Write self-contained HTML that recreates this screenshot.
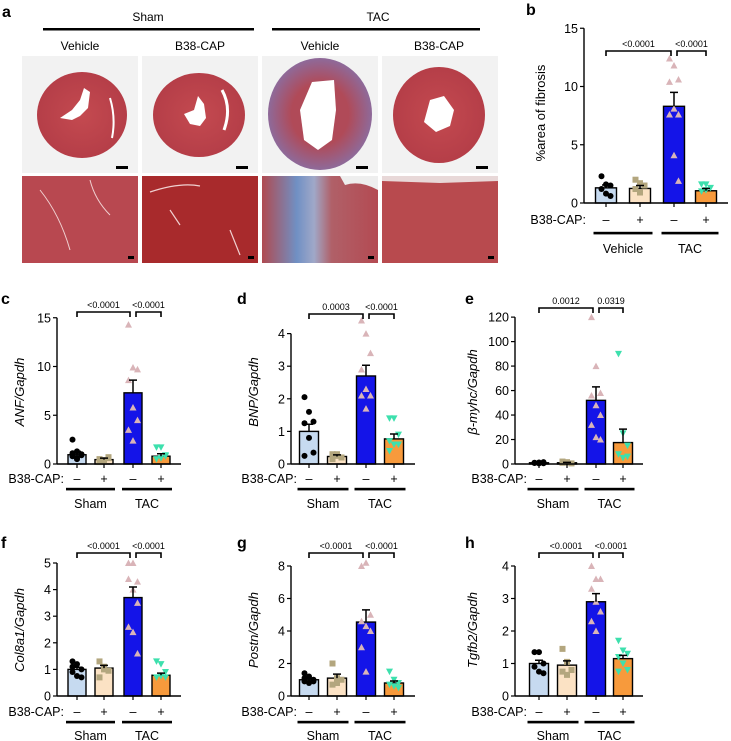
<!DOCTYPE html>
<html><head><meta charset="utf-8">
<style>
html,body{margin:0;padding:0;background:#fff;}
svg{display:block;font-family:"Liberation Sans",sans-serif;}
</style></head>
<body>
<svg id="fig" width="731" height="741" viewBox="0 0 731 741" xmlns="http://www.w3.org/2000/svg">
<defs>
<radialGradient id="heartG" cx="50%" cy="50%" r="50%"><stop offset="0%" stop-color="#c44a50"/><stop offset="100%" stop-color="#b53e48"/></radialGradient>
<radialGradient id="heartT" cx="50%" cy="50%" r="50%"><stop offset="55%" stop-color="#b04a58"/><stop offset="100%" stop-color="#8e6a9a"/></radialGradient>
<linearGradient id="fibro" x1="0" x2="1"><stop offset="0" stop-color="#b04a50"/><stop offset="0.3" stop-color="#7090c4"/><stop offset="0.45" stop-color="#a0a8c8"/><stop offset="0.6" stop-color="#b06068"/><stop offset="1" stop-color="#b44a52"/></linearGradient>
</defs>
<g id="panelA">
<text x="2" y="17" font-size="16" font-weight="bold">a</text>
<text x="148" y="21" font-size="12" text-anchor="middle">Sham</text>
<rect x="43" y="28" width="211" height="2.5" fill="#000"/>
<text x="378" y="21" font-size="12" text-anchor="middle">TAC</text>
<rect x="272" y="28" width="208" height="2.5" fill="#000"/>
<text x="80" y="50" font-size="12" text-anchor="middle">Vehicle</text>
<text x="200" y="50" font-size="12" text-anchor="middle">B38-CAP</text>
<text x="320" y="50" font-size="12" text-anchor="middle">Vehicle</text>
<text x="439" y="50" font-size="12" text-anchor="middle">B38-CAP</text>
<g>
<rect x="22" y="56" width="116" height="117" fill="#f2f2f2"/>
<ellipse cx="82" cy="115" rx="45" ry="43" fill="url(#heartG)"/>
<path d="M84 88 L90 92 L88 108 L80 116 L72 120 L60 118 L72 110 L80 100 Z" fill="#fff"/>
<path d="M110 98 Q116 118 112 138" stroke="#fff" stroke-width="2" fill="none"/>
<rect x="116" y="166" width="12" height="3" fill="#000"/>
</g>
<g>
<rect x="142" y="56" width="116" height="117" fill="#f2f2f2"/>
<ellipse cx="199" cy="115" rx="46" ry="42" fill="url(#heartG)"/>
<path d="M198 96 L204 104 L206 118 L200 126 L190 124 L184 114 L194 110 Z" fill="#fff"/>
<path d="M222 90 Q232 108 224 130" stroke="#fff" stroke-width="3" fill="none"/>
<rect x="236" y="166" width="12" height="3" fill="#000"/>
</g>
<g>
<rect x="262" y="56" width="116" height="117" fill="#f2f2f2"/>
<ellipse cx="320" cy="114" rx="52" ry="56" fill="url(#heartT)"/>
<path d="M312 82 L334 80 L336 110 L332 140 L318 150 L304 140 L300 110 Z" fill="#fff"/>
<rect x="356" y="166" width="12" height="3" fill="#000"/>
</g>
<g>
<rect x="382" y="56" width="116" height="117" fill="#f2f2f2"/>
<ellipse cx="439" cy="115" rx="46" ry="48" fill="url(#heartG)"/>
<path d="M430 100 L444 96 L454 110 L450 126 L436 132 L424 122 Z" fill="#fff"/>
<rect x="476" y="166" width="12" height="3" fill="#000"/>
</g>
<g>
<rect x="22" y="176" width="116" height="87" fill="#b84850"/>
<path d="M40 190 Q60 215 70 250 M90 180 Q95 200 110 215" stroke="#f0d0d0" stroke-width="1" fill="none"/>
<rect x="128" y="256" width="6" height="3" fill="#000"/>
</g>
<g>
<rect x="142" y="176" width="116" height="87" fill="#a82a2c"/>
<path d="M150 192 Q180 182 200 186 M170 210 L180 225 M230 230 L240 255" stroke="#f0d0d0" stroke-width="1.2" fill="none"/>
<rect x="248" y="256" width="6" height="3" fill="#000"/>
</g>
<g>
<rect x="262" y="176" width="116" height="87" fill="url(#fibro)"/>
<path d="M340 176 L378 176 L378 190 Q360 180 345 185 Z" fill="#eee"/>
<rect x="368" y="256" width="6" height="3" fill="#000"/>
</g>
<g>
<rect x="382" y="176" width="116" height="87" fill="#b84a4e"/>
<path d="M382 176 L498 176 L498 181 L440 183 L382 181 Z" fill="#e8d8d8"/>
<rect x="488" y="256" width="6" height="3" fill="#000"/>
</g>
</g>
<g id="charts"></g>
</svg>
<script>
// ---- data ----
const bCats = ["Vehicle -", "Vehicle +", "TAC -", "TAC +"];
const bMeans = [1.3, 1.25, 8.3, 1.05];
const bErrs = [0.25, 0.25, 1.2, 0.2];
const bPts1 = [2.3, 1.6, 1.5, 1.2, 0.8, 0.6];
const bPts2 = [2.0, 1.7, 1.5, 1.2, 0.9];
const bPts3 = [12.4, 11.8, 10.6, 10.4, 8.1, 7.6, 7.6, 4.1, 1.9];
const bPts4 = [1.6, 1.6, 1.3, 1.0, 1.1];
const bTicks = [0, 5, 10, 15];
const bPvals = ["<0.0001", "<0.0001"];

const cMeans = [0.95, 0.45, 7.3, 0.8];
const cErrs = [0.35, 0.15, 1.3, 0.25];
const cPts1 = [2.5, 1.3, 1.0, 0.8, 0.6, 0.9, 1.1, 0.5];
const cPts2 = [0.5, 0.3, 0.7, 0.2, 0.4, 0.6];
const cPts3 = [14.3, 9.9, 9.7, 8.6, 5.8, 4.5, 3.5, 2.4];
const cPts4 = [1.7, 1.7, 0.8, 0.5, 0.6, 0.9];
const cTicks = [0, 5, 10, 15];
const cPvals = ["<0.0001", "<0.0001"];

const dMeans = [1.0, 0.23, 2.7, 0.77];
const dErrs = [0.22, 0.05, 0.33, 0.15];
const dPts1 = [2.05, 1.6, 1.3, 1.25, 0.8, 0.35, 0.25];
const dPts2 = [0.3, 0.25, 0.2, 0.15, 0.3, 0.2];
const dPts3 = [4.4, 4.0, 3.4, 2.9, 2.3, 2.1, 2.1, 1.7];
const dPts4 = [1.4, 1.4, 0.9, 0.7, 0.6, 0.6, 0.4];
const dTicks = [0, 1, 2, 3, 4];
const dPvals = ["0.0003", "<0.0001"];

const eMeans = [1.0, 1.0, 52, 17.5];
const eErrs = [0.3, 0.3, 11, 11];
const ePts1 = [1.0, 0.5, 1.5, 0.8, 1.2, 0.6];
const ePts2 = [1.0, 1.5, 0.5, 2.0, 1.2];
const ePts3 = [120, 80, 58, 56, 48, 40, 32, 22, 20];
const ePts4 = [90, 25, 15, 8, 5, 6];
const eTicks = [0, 20, 40, 60, 80, 100, 120];
const ePvals = ["0.0012", "0.0319"];

const fMeans = [1.0, 1.05, 3.7, 0.78];
const fErrs = [0.08, 0.1, 0.4, 0.08];
const fPts1 = [1.3, 1.2, 1.0, 0.9, 0.75, 0.7, 1.1];
const fPts2 = [1.3, 1.1, 0.95, 0.7, 1.0];
const fPts3 = [5.0, 5.0, 4.3, 4.4, 4.0, 3.5, 2.6, 2.4, 1.6];
const fPts4 = [1.3, 1.2, 0.9, 0.7, 0.75, 0.7];
const fTicks = [0, 1, 2, 3, 4, 5];
const fPvals = ["<0.0001", "<0.0001"];

const gMeans = [1.0, 1.1, 4.55, 0.8];
const gErrs = [0.1, 0.25, 0.75, 0.12];
const gPts1 = [1.4, 1.2, 1.0, 0.9, 0.8, 0.9, 1.1];
const gPts2 = [2.0, 1.1, 1.0, 0.7, 0.8];
const gPts3 = [8.0, 8.2, 5.0, 4.6, 4.3, 4.0, 3.0, 1.5];
const gPts4 = [1.5, 1.0, 0.8, 0.7, 0.6, 0.5];
const gTicks = [0, 2, 4, 6, 8];
const gPvals = ["<0.0001", "<0.0001"];

const hMeans = [1.0, 0.95, 2.9, 1.15];
const hErrs = [0.1, 0.13, 0.25, 0.1];
const hPts1 = [1.35, 1.35, 1.0, 0.9, 0.75, 0.7];
const hPts2 = [1.45, 1.05, 0.8, 0.75, 0.65];
const hPts3 = [4.0, 3.6, 3.6, 3.3, 2.9, 2.6, 2.3, 2.0];
const hPts4 = [1.7, 1.4, 1.3, 1.2, 1.0, 0.8, 0.75];
const hTicks = [0, 1, 2, 3, 4];
const hPvals = ["<0.0001", "<0.0001"];

const signs = ["\u2013", "+", "\u2013", "+"];
const barFills = ["#c6daf0", "#fbe2c4", "#1414e8", "#f79a3c"];

const NS = "http://www.w3.org/2000/svg";
const root = document.getElementById("charts");
function mk(tag, attrs, parent) {
  const e = document.createElementNS(NS, tag);
  for (const k in attrs) e.setAttribute(k, attrs[k]);
  (parent || root).appendChild(e);
  return e;
}

function panel(c) {
  const g = mk("g", {});
  
  
  const yS = v => c.y0 - v * c.ppu;
  const xS = i => c.centers[i];
  const lbl = mk("text", {x: c.lx, y: c.ly, "font-size": 16, "font-weight": "bold"}, g);
  lbl.textContent = c.id;
  
  
  c.means.forEach((m, i) => {
    const r = mk("rect", {x: xS(i) - c.bw / 2, y: yS(m), width: c.bw, height: c.y0 - yS(m), fill: barFills[i], stroke: "#000", "stroke-width": 1.4}, g);
    
    
  });
  const markers = ["circle", "square", "tri", "dtri"];
  const mcol = ["#000", "#b3a67e", "#d9b4b8", "#3de0ad"];
  c.pts.forEach((arr, gi) => {
    arr.forEach((v, j) => {
      const x = xS(gi) + ((j % 3) - 1) * 4.5;
      const y = yS(v);
      let p;
      if (markers[gi] === "circle") p = mk("circle", {cx: x, cy: y, r: 3, fill: mcol[gi]}, g);
      else if (markers[gi] === "square") p = mk("rect", {x: x - 3, y: y - 3, width: 6, height: 6, fill: mcol[gi]}, g);
      else if (markers[gi] === "tri") p = mk("polygon", {points: `${x},${y - 3.5} ${x - 3.5},${y + 3} ${x + 3.5},${y + 3}`, fill: mcol[gi]}, g);
      else p = mk("polygon", {points: `${x},${y + 3.5} ${x - 3.5},${y - 3} ${x + 3.5},${y - 3}`, fill: mcol[gi]}, g);
      
      
    });
  });
  c.means.forEach((m, i) => {
    const eb = mk("path", {d: `M${xS(i)},${yS(m)} V${yS(m + c.errs[i])} M${xS(i) - 4},${yS(m + c.errs[i])} H${xS(i) + 4}`, stroke: "#000", "stroke-width": 1.5, fill: "none"}, g);
    
    
  });
  const top = yS(c.ticks[c.ticks.length - 1]);
  const ya = mk("line", {x1: c.ax, x2: c.ax, y1: top, y2: c.y0, stroke: "#000", "stroke-width": 1.4}, g);
  
  
  const xa = mk("line", {x1: c.ax, x2: c.xend, y1: c.y0, y2: c.y0, stroke: "#000", "stroke-width": 1.4}, g);
  
  
  c.ticks.forEach(t => {
    mk("line", {x1: c.ax - 4, x2: c.ax, y1: yS(t), y2: yS(t), stroke: "#000", "stroke-width": 1.2}, g);
    const tl = mk("text", {x: c.ax - 6, y: yS(t) + 4.5, "font-size": 12.5, "text-anchor": "end"}, g);
    tl.textContent = t;
    
    
  });
  c.centers.forEach(x => mk("line", {x1: x, x2: x, y1: c.y0, y2: c.y0 + 4, stroke: "#000", "stroke-width": 1.2}, g));
  const yt = mk("text", {x: 0, y: 0, "font-size": 13, "text-anchor": "middle", transform: `translate(${c.tx},${c.ty}) rotate(-90)`, "font-style": c.italic ? "italic" : "normal"}, g);
  yt.textContent = c.title;
  
  
  const bl = mk("text", {x: c.ax + c.blOff, y: c.by + 4, "font-size": 12.5, "text-anchor": "end"}, g);
  bl.textContent = "B38-CAP:";
  
  
  signs.forEach((s, i) => {
    const st = mk("text", {x: xS(i), y: c.by + 4, "font-size": 12.5, "text-anchor": "middle"}, g);
    st.textContent = s;
    
    
  });
  [[0, 1], [2, 3]].forEach((pr, k) => {
    const x1 = xS(pr[0]) - c.bw / 2 - 2, x2 = xS(pr[1]) + c.bw / 2 + 2;
    const gl = mk("rect", {x: x1, y: c.gly - 1.2, width: x2 - x1, height: 2.6, fill: "#000"}, g);
    
    
    const gt = mk("text", {x: (x1 + x2) / 2, y: c.gty, "font-size": 12.5, "text-anchor": "middle"}, g);
    gt.textContent = c.groups[k];
    
    
  });
  [[0, 2], [2, 3]].forEach((pr, k) => {
    const a = xS(pr[0]) + (k === 1 ? 3 : 0), b = xS(pr[1]) - (k === 0 ? 3 : 0);
    const br = mk("path", {d: `M${a},${c.bky + 5} V${c.bky} H${b} V${c.bky + 5}`, stroke: "#000", "stroke-width": 1.6, fill: "none"}, g);
    
    
    const pt = mk("text", {x: (a + b) / 2, y: c.bky - 4, "font-size": 9, "text-anchor": "middle"}, g);
    pt.textContent = c.pvals[k];
    
    
  });
}

const G1 = ["Vehicle", "TAC"], G2 = ["Sham", "TAC"];
panel({id: "b", lx: 526, ly: 15, ax: 584, xend: 728, y0: 203, ppu: 11.65, centers: [606, 640, 674, 706], bw: 21,
  means: bMeans, errs: bErrs, pts: [bPts1, bPts2, bPts3, bPts4], ticks: bTicks, pvals: bPvals,
  title: "%area of fibrosis", italic: false, tx: 545, ty: 113, blOff: 2, by: 220, gly: 233, gty: 253, groups: G1, bky: 51});

const rowTop = {y0: 464, by: 479, gly: 489, gty: 508};
const rowBot = {y0: 696, by: 712, gly: 722, gty: 740};
panel(Object.assign({id: "c", lx: 1, ly: 304, ax: 57, xend: 181, ppu: 9.75, centers: [77, 104, 133, 161], bw: 18,
  means: cMeans, errs: cErrs, pts: [cPts1, cPts2, cPts3, cPts4], ticks: cTicks, pvals: cPvals,
  title: "ANF/Gapdh", italic: true, tx: 24, ty: 392, blOff: 7, groups: G2, bky: 312}, rowTop));
panel(Object.assign({id: "d", lx: 237, ly: 304, ax: 291, xend: 415, ppu: 32.6, centers: [309, 337, 366, 394], bw: 19,
  means: dMeans, errs: dErrs, pts: [dPts1, dPts2, dPts3, dPts4], ticks: dTicks, pvals: dPvals,
  title: "BNP/Gapdh", italic: true, tx: 258, ty: 392, blOff: 6, groups: G2, bky: 314}, rowTop));
panel(Object.assign({id: "e", lx: 465, ly: 304, ax: 515, xend: 643, ppu: 1.224, centers: [539, 567, 596, 623], bw: 19,
  means: eMeans, errs: eErrs, pts: [ePts1, ePts2, ePts3, ePts4], ticks: eTicks, pvals: ePvals,
  title: "\u03b2-myhc/Gapdh", italic: true, tx: 477, ty: 392, blOff: 12, groups: G2, bky: 308}, rowTop));
panel(Object.assign({id: "f", lx: 1, ly: 548, ax: 57, xend: 181, ppu: 26.6, centers: [77, 104, 133, 161], bw: 18,
  means: fMeans, errs: fErrs, pts: [fPts1, fPts2, fPts3, fPts4], ticks: fTicks, pvals: fPvals,
  title: "Col8a1/Gapdh", italic: true, tx: 24, ty: 630, blOff: 7, groups: G2, bky: 553}, rowBot));
panel(Object.assign({id: "g", lx: 237, ly: 548, ax: 291, xend: 415, ppu: 16.25, centers: [309, 337, 366, 394], bw: 19,
  means: gMeans, errs: gErrs, pts: [gPts1, gPts2, gPts3, gPts4], ticks: gTicks, pvals: gPvals,
  title: "Postn/Gapdh", italic: true, tx: 258, ty: 630, blOff: 6, groups: G2, bky: 553}, rowBot));
panel(Object.assign({id: "h", lx: 465, ly: 548, ax: 515, xend: 643, ppu: 32.5, centers: [539, 567, 596, 623], bw: 19,
  means: hMeans, errs: hErrs, pts: [hPts1, hPts2, hPts3, hPts4], ticks: hTicks, pvals: hPvals,
  title: "Tgfb2/Gapdh", italic: true, tx: 477, ty: 630, blOff: 12, groups: G2, bky: 553}, rowBot));
</script>
</body></html>
